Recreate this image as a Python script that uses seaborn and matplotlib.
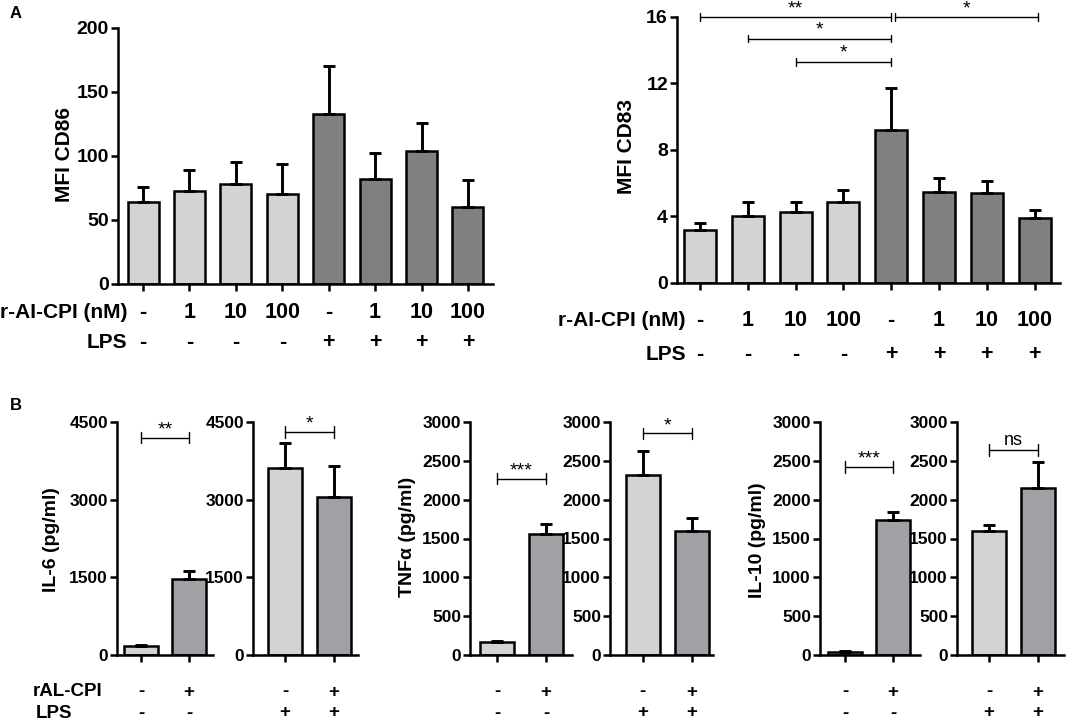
import numpy as np
import matplotlib
matplotlib.use('Agg')
import matplotlib.pyplot as plt
import matplotlib.transforms as mtrans
import seaborn as sns

# ---- panel A data ----
a_conc = ['-', '1', '10', '100', '-', '1', '10', '100']
a_lps = ['-', '-', '-', '-', '+', '+', '+', '+']
a_group = ['ctrl', 'ctrl', 'ctrl', 'ctrl', 'lps', 'lps', 'lps', 'lps']
cd86_mean = [64, 73, 78, 70, 133, 82, 104, 60]
cd86_err = [11.5, 16, 17.5, 23.5, 37.5, 20, 22, 21.5]
cd83_mean = [3.2, 4.05, 4.3, 4.85, 9.2, 5.5, 5.4, 3.9]
cd83_err = [0.4, 0.85, 0.6, 0.75, 2.55, 0.8, 0.75, 0.5]
cd83_sig = [(0, 4, 16.0, '**'), (4, 7, 16.0, '*'), (1, 4, 14.7, '*'), (2, 4, 13.3, '*')]

# ---- panel B data ----
b_ral = ['-', '+']
b_lps_no = ['-', '-']
b_lps_yes = ['+', '+']
b_group = ['ctrl', 'ral']
il6_no = [180, 1463]
il6_no_err = [15, 150]
il6_yes = [3614, 3042]
il6_yes_err = [480, 610]
tnf_no = [163, 1558]
tnf_no_err = [15, 128]
tnf_yes = [2319, 1596]
tnf_yes_err = [313, 163]
il10_no = [38, 1738]
il10_no_err = [9, 98]
il10_yes = [1598, 2156]
il10_yes_err = [76, 332]
il6_sig = [4198, 4307]
tnf_sig = [2272, 2854]
il10_sig = [2424, 2642]
b_sig_no = ['**', '***', '***']
b_sig_yes = ['*', '*', 'ns']

sns.set_style('ticks')
plt.rcParams['font.family'] = ['Liberation Sans', 'DejaVu Sans']
plt.rcParams['font.weight'] = 'bold'
for k in ['text.color', 'xtick.color', 'ytick.color', 'axes.labelcolor', 'axes.edgecolor']:
    plt.rcParams[k] = 'black'

W, H = 1084, 723
fig = plt.figure(figsize=(W / 100, H / 100), dpi=100)

LW = 1.8


def px_axes(left, right, top, bottom):
    return fig.add_axes([left / W, 1 - bottom / H, (right - left) / W, (bottom - top) / H])


def bar_panel(ax, means, errs, groups, palette, ylim, yticks, xlim, width, fs):
    n = len(means)
    sns.barplot(x=list(range(n)), y=means, hue=groups, palette=palette, dodge=False,
                width=width, edgecolor='black', linewidth=LW, legend=False, ax=ax, zorder=2)
    ax.errorbar(range(n), means, yerr=[np.zeros(n), errs], fmt='none', ecolor='black',
                elinewidth=LW + 0.3, capsize=4.5, capthick=LW + 0.3, zorder=3)
    ax.set_xlim(*xlim)
    ax.set_ylim(*ylim)
    ax.set_yticks(yticks)
    ax.set_yticklabels([str(t) for t in yticks], fontsize=fs, fontweight='bold')
    ax.set_xticks(range(n))
    ax.set_xticklabels([''] * n)
    ax.tick_params(axis='both', width=LW, length=5, pad=1.5, colors='black')
    sns.despine(ax=ax)
    for s in ['left', 'bottom']:
        ax.spines[s].set_linewidth(LW)
        ax.spines[s].set_color('black')
    ax.set_xlabel('')
    ax.set_ylabel('')


def bracket(ax, x1, x2, y, label, tick, fs, gap):
    kw = dict(color='black', lw=1.0, clip_on=False, zorder=4)
    ax.plot([x1, x2], [y, y], **kw)
    ax.plot([x1, x1], [y - tick, y + tick], **kw)
    ax.plot([x2, x2], [y - tick, y + tick], **kw)
    ax.text((x1 + x2) / 2, y + gap, label, ha='center', va='bottom', fontsize=fs,
            fontweight='normal', clip_on=False)


def row(ax, labels, ypix, fs):
    tr = mtrans.blended_transform_factory(ax.transData, fig.transFigure)
    for i, lab in enumerate(labels):
        ax.text(i, 1 - ypix / H, lab, transform=tr, ha='center', va='center',
                fontsize=fs, fontweight='bold')


pal_a = {'ctrl': '#d3d3d3', 'lps': '#808080'}
pal_b = {'ctrl': '#d3d3d3', 'ral': '#a1a1a5'}

# ---- A left: CD86 ----
ax1 = px_axes(118, 493, 28, 284)
bar_panel(ax1, cd86_mean, cd86_err, a_group, pal_a, (0, 200), [0, 50, 100, 150, 200],
          (-0.54, 7.54), 0.67, 14)
row(ax1, a_conc, 312, 15.5)
row(ax1, a_lps, 343, 15.5)
fig.text(127 / W, 1 - 312 / H, 'r-AI-CPI (nM)', ha='right', va='center', fontsize=15,
         fontweight='bold')
fig.text(127 / W, 1 - 343 / H, 'LPS', ha='right', va='center', fontsize=15, fontweight='bold')
fig.text(65 / W, 1 - 155 / H, 'MFI CD86', rotation=90, ha='center', va='center',
         fontsize=15, fontweight='bold')

# ---- A right: CD83 ----
ax2 = px_axes(677, 1060, 17, 283)
bar_panel(ax2, cd83_mean, cd83_err, a_group, pal_a, (0, 16), [0, 4, 8, 12, 16],
          (-0.48, 7.53), 0.67, 14)
shift = {(4, 7): 0.08}
for i, j, y, lab in cd83_sig:
    d = shift.get((i, j), 0)
    bracket(ax2, i + d, j + d, y, lab, 0.22, 14, 0.0)
row(ax2, a_conc, 320, 15.5)
row(ax2, a_lps, 355, 15.5)
fig.text(686 / W, 1 - 320 / H, 'r-AI-CPI (nM)', ha='right', va='center', fontsize=15,
         fontweight='bold')
fig.text(686 / W, 1 - 355 / H, 'LPS', ha='right', va='center', fontsize=15, fontweight='bold')
fig.text(627 / W, 1 - 147 / H, 'MFI CD83', rotation=90, ha='center', va='center',
         fontsize=15, fontweight='bold')

# ---- B panels ----
b_specs = [
    (117, 213, (-0.5, 1.5), il6_no, il6_no_err, 4500, [0, 1500, 3000, 4500], il6_sig[0], b_sig_no[0], b_lps_no),
    (253, 358, (-0.65, 1.49), il6_yes, il6_yes_err, 4500, [0, 1500, 3000, 4500], il6_sig[1], b_sig_yes[0], b_lps_yes),
    (470, 572, (-0.55, 1.53), tnf_no, tnf_no_err, 3000, list(range(0, 3001, 500)), tnf_sig[0], b_sig_no[1], b_lps_no),
    (610, 713, (-0.67, 1.43), tnf_yes, tnf_yes_err, 3000, list(range(0, 3001, 500)), tnf_sig[1], b_sig_yes[1], b_lps_yes),
    (820, 920, (-0.52, 1.56), il10_no, il10_no_err, 3000, list(range(0, 3001, 500)), il10_sig[0], b_sig_no[2], b_lps_no),
    (957, 1064, (-0.65, 1.53), il10_yes, il10_yes_err, 3000, list(range(0, 3001, 500)), il10_sig[1], b_sig_yes[2], b_lps_yes),
]
for left, right, xl, m, e, ymax, yt, sig_y, sig_lab, lps in b_specs:
    ax = px_axes(left, right, 422, 655)
    bar_panel(ax, m, e, b_group, pal_b, (0, ymax), yt, xl, 0.69, 12.5)
    fs_sig = 13 if sig_lab == 'ns' else 14
    bracket(ax, 0, 1, sig_y, sig_lab, ymax * 0.025, fs_sig, -ymax * 0.004 if sig_lab != 'ns' else ymax * 0.004)
    row(ax, b_ral, 692, 13.5)
    row(ax, lps, 713, 13.5)

fig.text(33 / W, 1 - 692 / H, 'rAL-CPI', ha='left', va='center', fontsize=13.5, fontweight='bold')
fig.text(36 / W, 1 - 713 / H, 'LPS', ha='left', va='center', fontsize=13.5, fontweight='bold')
fig.text(52 / W, 1 - 540 / H, 'IL-6 (pg/ml)', rotation=90, ha='center', va='center',
         fontsize=14, fontweight='bold')
fig.text(408 / W, 1 - 537 / H, 'TNF\u03b1 (pg/ml)', rotation=90, ha='center', va='center',
         fontsize=14, fontweight='bold')
fig.text(757 / W, 1 - 540 / H, 'IL-10 (pg/ml)', rotation=90, ha='center', va='center',
         fontsize=14, fontweight='bold')

fig.text(10 / W, 1 - 14 / H, 'A', ha='left', va='center', fontsize=12, fontweight='bold')
fig.text(10 / W, 1 - 405 / H, 'B', ha='left', va='center', fontsize=12, fontweight='bold')

fig.savefig('out.png', dpi=100)
